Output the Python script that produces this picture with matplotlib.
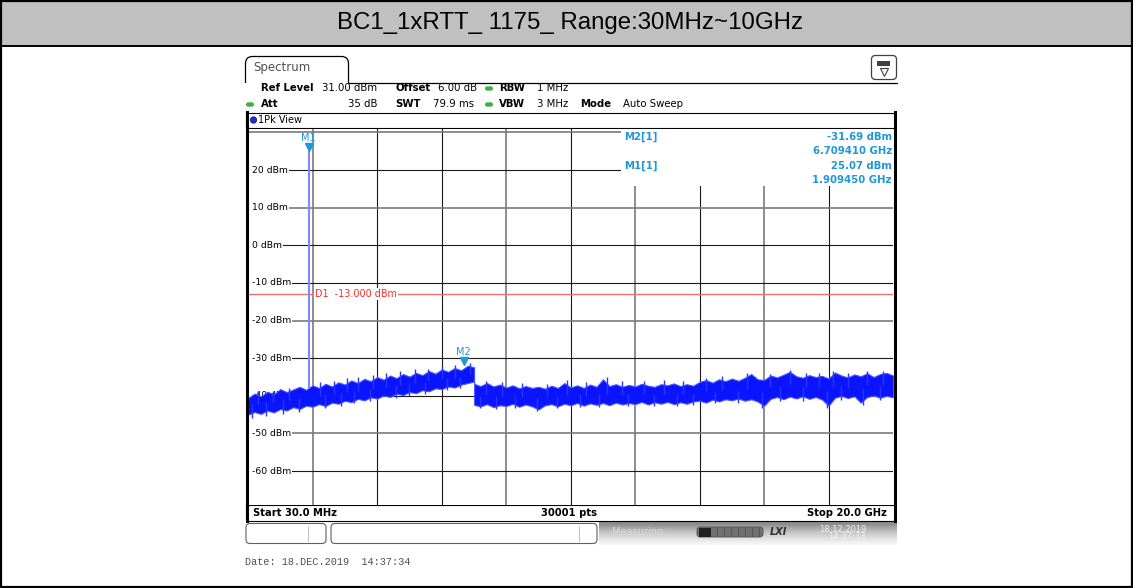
import numpy as np
import matplotlib.pyplot as plt
from matplotlib.patches import Rectangle, FancyBboxPatch, Circle
from matplotlib.transforms import offset_copy, blended_transform_factory

plt.rcParams['font.family'] = 'DejaVu Sans'

W, H = 1133, 588

title = 'BC1_1xRTT_ 1175_ Range:30MHz~10GHz'

# sweep settings
start_ghz, stop_ghz = 0.03, 20.0
ref_level, y_bottom = 31, -69
level_ticks = [30, 20, 10, 0, -10, -20, -30, -40, -50, -60]
limit_dbm = -13.0

# trace envelope (dBm), part 1: 0.03 .. 7.03 GHz
seg1_upper = [-40.6, -39.4, -40.1, -38.9, -39.6, -38.2, -39.0, -38.3, -37.6, -38.4,
              -37.2, -37.9, -36.8, -37.5, -36.4, -37.0, -35.9, -36.6, -35.5, -36.1,
              -35.0, -35.7, -34.6, -35.3, -34.2, -34.9, -33.9, -34.5, -33.4, -34.1,
              -33.0, -33.6, -32.6, -33.2, -32.0, -32.4]
seg1_lower = [-45.0, -44.3, -44.8, -43.9, -44.4, -43.5, -43.9, -43.0, -43.5, -42.6,
              -42.9, -42.2, -42.7, -41.8, -42.1, -41.3, -41.7, -40.8, -41.2, -40.4,
              -40.7, -39.9, -40.3, -39.4, -39.8, -39.0, -39.3, -38.5, -38.8, -38.0,
              -38.2, -37.5, -37.8, -37.0, -36.6, -36.2]

# part 2: 7.03 .. 20.0 GHz
seg2_upper = [-36.8, -37.4, -36.6, -37.5, -37.0, -37.8, -37.2, -38.0, -37.4, -37.9,
              -37.6, -38.1, -37.3, -37.9, -36.6, -37.8, -37.2, -37.9, -37.0, -37.6,
              -35.6, -37.4, -36.9, -37.6, -37.1, -37.5, -36.8, -37.3, -37.6, -36.9,
              -37.2, -36.7, -37.4, -36.9, -37.3, -36.3, -35.8, -36.5, -35.6, -36.1,
              -35.4, -36.0, -35.2, -34.2, -35.6, -35.8, -34.6, -35.1, -34.4, -33.6,
              -34.8, -35.2, -34.5, -35.0, -34.7, -35.4, -33.8, -34.6, -35.1, -34.3,
              -34.8, -34.0, -35.0, -34.2, -33.9, -34.6]
seg2_lower = [-42.4, -42.8, -42.2, -43.0, -42.5, -42.7, -42.1, -42.9, -42.3, -42.8,
              -43.6, -42.5, -42.2, -42.8, -42.1, -42.5, -41.9, -42.6, -42.0, -42.4,
              -41.9, -42.5, -41.8, -42.3, -41.9, -42.2, -41.6, -42.3, -41.7, -42.1,
              -41.6, -42.2, -41.7, -42.1, -41.5, -41.3, -41.8, -41.0, -41.5, -40.9,
              -41.2, -40.7, -41.3, -40.9, -41.5, -42.6, -40.8, -40.3, -40.9, -40.2,
              -40.7, -40.1, -40.8, -40.3, -41.0, -42.6, -40.5, -40.0, -40.6, -40.1,
              -41.8, -40.3, -39.9, -40.5, -40.0, -40.4]
step_ghz = 7.03

# single noise peaks sticking out of the band (GHz, dBm)
peak_up_f = [0.35, 0.8, 1.3, 2.25, 2.7, 3.1, 3.45, 3.9, 4.3, 4.75, 5.2, 5.6, 6.05, 6.45, 6.9,
             7.4, 7.9, 8.5, 9.3, 9.9, 10.5, 11.14, 11.6, 12.3, 12.9, 13.5, 14.2, 14.7, 15.47,
             16.2, 16.81, 17.3, 17.7, 18.15, 18.6, 19.2, 19.7]
peak_up_v = [-39.0, -38.6, -37.9, -36.4, -36.0, -35.3, -35.0, -34.4, -34.0, -33.5, -33.0,
             -32.8, -32.2, -31.8, -31.3,
             -36.0, -36.2, -36.6, -36.8, -35.8, -36.3, -35.0, -36.0, -36.1, -35.8, -36.0,
             -35.2, -34.6, -33.8, -34.2, -33.2, -33.9, -34.0, -33.4, -33.9, -33.5, -33.3]
peak_dn_f = [0.15, 0.6, 1.1, 1.6, 2.4, 2.9, 3.3, 3.8, 4.6, 5.0, 5.5, 6.2, 6.6,
             7.2, 7.7, 8.3, 8.97, 9.6, 10.3, 10.9, 11.8, 12.6, 13.3, 13.8, 14.5, 15.2, 15.93,
             16.5, 17.2, 17.95, 18.4, 19.08, 19.6]
peak_dn_v = [-46.0, -45.4, -44.8, -44.2, -43.3, -42.6, -42.0, -41.4, -40.5, -40.0, -39.4,
             -38.5, -38.0,
             -43.3, -43.5, -43.2, -43.9, -43.1, -42.9, -43.0, -42.7, -42.6, -42.7, -42.3,
             -42.0, -41.8, -43.3, -41.5, -41.3, -43.1, -41.2, -42.5, -41.1]

# markers
m1_freq, m1_level = 1.909450, 25.07
m2_freq, m2_level = 6.709410, -31.69

seg1_freq = np.linspace(start_ghz, step_ghz, len(seg1_upper))
seg2_freq = np.linspace(step_ghz, stop_ghz, len(seg2_upper))
freqs = np.concatenate([seg1_freq, seg2_freq])
upper = np.concatenate([seg1_upper, seg2_upper])
lower = np.concatenate([seg1_lower, seg2_lower])
mid = (upper + lower) / 2

BLUE = '#0a14ff'
MK = '#1f97d9'
GREEN = '#3cb043'

fig = plt.figure(figsize=(W / 100, H / 100), dpi=100)

# pixel-space background
bg = fig.add_axes([0, 0, 1, 1], zorder=0)
bg.set_xlim(0, W)
bg.set_ylim(H, 0)
bg.axis('off')

# title row of the table
bg.add_patch(Rectangle((0, 0), W, 45, fc='#c0c0c0', ec='none'))
bg.plot([0, W], [45.5, 45.5], color='black', lw=1.4)
bg.add_patch(Rectangle((1, 1), W - 2, H - 2, fc='none', ec='black', lw=1.6))
bg.text(570, 23, title, fontsize=17.3, family='Liberation Sans', ha='center', va='center')

# screen: tab + header
bg.add_patch(FancyBboxPatch((245.5, 56.5), 103, 40, boxstyle='round,pad=0,rounding_size=7',
                            fc='white', ec='black', lw=0.9))
bg.add_patch(Rectangle((244, 82.5), 656, 30, fc='white', ec='none', zorder=3))
bg.plot([348.5, 897], [82.5, 82.5], color='black', lw=0.9, zorder=4)
bg.text(253, 68, 'Spectrum', fontsize=8.5, color='#505050', va='center', zorder=5)
bg.add_patch(FancyBboxPatch((871.5, 55.5), 25, 24, boxstyle='round,pad=0,rounding_size=4',
                            fc='white', ec='#404040', lw=0.9))
bg.add_patch(Rectangle((877, 61), 13, 5, fc='#404040', ec='none'))
bg.plot([883.5], [72], marker='v', ms=6, mfc='white', mec='#404040', mew=0.8)

hdr = [
    (261, 88, 'Ref Level', 'bold', 'left'), (322, 88, '31.00 dBm', 'normal', 'left'),
    (395, 88, 'Offset', 'bold', 'left'), (438, 88, '6.00 dB', 'normal', 'left'),
    (499, 88, 'RBW', 'bold', 'left'), (537, 88, '1 MHz', 'normal', 'left'),
    (261, 104, 'Att', 'bold', 'left'), (378, 104, '35 dB', 'normal', 'right'),
    (395, 104, 'SWT', 'bold', 'left'), (433, 104, '79.9 ms', 'normal', 'left'),
    (499, 104, 'VBW', 'bold', 'left'), (537, 104, '3 MHz', 'normal', 'left'),
    (580, 104, 'Mode', 'bold', 'left'), (623, 104, 'Auto Sweep', 'normal', 'left'),
]
for x, y, s, w, ha in hdr:
    bg.text(x, y, s, fontsize=7.3, fontweight=w, ha=ha, va='center', zorder=5)
for x, y in [(489, 88.5), (489, 104.5), (250, 104.5)]:
    bg.add_patch(FancyBboxPatch((x - 4, y - 2.2), 8, 4.4, boxstyle='round,pad=0,rounding_size=2.2',
                                fc=GREEN, ec='none', zorder=5))

# 1Pk View bar
bg.add_patch(Rectangle((246, 112.5), 649, 15.5, fc='white', ec='black', lw=0.8, zorder=5))
bg.add_patch(Circle((253.5, 120), 3.2, fc='#1a2ee0', ec='#101050', lw=0.5, zorder=6))
bg.text(257.5, 120, '1Pk View', fontsize=7, va='center', zorder=6)

# footer bar
bg.add_patch(Rectangle((246, 505), 649, 15.5, fc='white', ec='black', lw=0.8))
bg.text(253, 512.5, 'Start 30.0 MHz', fontsize=7.2, fontweight='bold', va='center')
bg.text(569, 512.5, '30001 pts', fontsize=7.2, fontweight='bold', va='center', ha='center')
bg.text(887, 512.5, 'Stop 20.0 GHz', fontsize=7.2, fontweight='bold', va='center', ha='right')

# status bar
for x0, x1, sep in [(246, 326, 308), (331, 597, 579)]:
    bg.add_patch(FancyBboxPatch((x0, 523.5), x1 - x0, 20, boxstyle='round,pad=0,rounding_size=4',
                                fc='white', ec='#606060', lw=0.8))
    bg.plot([sep, sep], [526, 541], color='#c8c8c8', lw=0.8)
grad = np.linspace(0, 1, 24)[:, None] * np.ones((1, 10))
bg.imshow(grad, cmap='Greys_r', vmin=-0.9, vmax=1.15, extent=(599, 897, 545, 522),
          aspect='auto', zorder=1)
bg.text(612, 532, 'Measuring...', fontsize=7, color='#d8d8d8', va='center', zorder=2)
bg.add_patch(FancyBboxPatch((697, 527), 66, 10, boxstyle='round,pad=0,rounding_size=3',
                            fc='#707070', ec='#505050', lw=0.6, zorder=2))
bg.add_patch(Rectangle((699, 527.5), 12, 9, fc='#202020', ec='none', zorder=3))
for xs in range(717, 760, 7):
    bg.plot([xs, xs], [528, 536], color='#505050', lw=0.6, zorder=3)
bg.text(770, 532, 'LXI', fontsize=7, fontweight='bold', style='italic', color='#303030',
        va='center', zorder=3)
bg.text(866, 529, '18.12.2019', fontsize=6, color='#f0f0f0', ha='right', va='center', zorder=3)
bg.text(866, 536.5, '14:37:33', fontsize=6, color='#f0f0f0', ha='right', va='center', zorder=3)

bg.text(245, 562, 'Date: 18.DEC.2019  14:37:34', fontsize=7.3, family='Liberation Mono',
        color='#505050', va='center')

# spectrum grid
ax = fig.add_axes([248 / W, 1 - 505 / H, 645 / W, (505 - 128.6) / H], zorder=1)
ax.set_xlim(start_ghz, stop_ghz)
ax.set_ylim(y_bottom, ref_level)
ax.set_xticks([])
ax.set_yticks([])
for s in ax.spines.values():
    s.set_visible(False)

div = (stop_ghz - start_ghz) / 10
gray_v = [1, 4, 6, 8]
for k in range(1, 10):
    if k in gray_v:
        ax.axvline(start_ghz + k * div, color='#7a7a7a', lw=1.2, zorder=1)
    else:
        ax.axvline(start_ghz + k * div, color='#1a1a1a', lw=0.8, zorder=1)
gray_h = [30, 10, -20, -50]
for lv in level_ticks:
    if lv in gray_h:
        ax.axhline(lv, color='#7a7a7a', lw=1.2, zorder=1)
    else:
        ax.axhline(lv, color='#1a1a1a', lw=0.8, zorder=1)

# y labels
lab_tr = blended_transform_factory(ax.transAxes, ax.transData)
for lv in level_ticks[1:]:
    ax.add_patch(Rectangle((0, lv - 1.3), 0.008, 2.6, transform=lab_tr, fc='white', ec='none',
                           zorder=2))
    ax.text(0.0062, lv, f'{lv} dBm', transform=lab_tr, fontsize=6.7, va='center', ha='left',
            bbox=dict(fc='white', ec='none', pad=0.5), zorder=2)

# display line D1
ax.axhline(limit_dbm, color='#f07070', lw=1.0, zorder=2)
ax.text(2.1, limit_dbm, f'D1  {limit_dbm:.3f} dBm', fontsize=6.9, color='#ff2a2a', va='center',
        bbox=dict(fc='white', ec='none', pad=0.6), zorder=3)

# marker info box
ax.add_patch(Rectangle((11.58, 15.7), stop_ghz - 11.58, ref_level - 15.7, fc='white', ec='none',
                       zorder=3))

# trace
ax.fill_between(freqs, lower, upper, color=BLUE, ec='#4a58ff', lw=0.8, zorder=4)
ax.vlines(peak_up_f, np.interp(peak_up_f, freqs, mid), peak_up_v, color='#2a36ff', lw=1.0,
          zorder=4)
ax.vlines(peak_dn_f, np.interp(peak_dn_f, freqs, mid), peak_dn_v, color='#2a36ff', lw=1.0,
          zorder=4)
ax.vlines(m1_freq, np.interp(m1_freq, seg1_freq, seg1_upper), m1_level, color='#7f86ff',
          lw=1.5, zorder=4)

# markers
for name, f, lv in [('M1', m1_freq, m1_level), ('M2', m2_freq, m2_level)]:
    tri = offset_copy(ax.transData, fig=fig, y=3.5, units='dots')
    ax.plot([f], [lv], marker='v', ms=6, color=MK, transform=tri, zorder=6)
    txt = offset_copy(ax.transData, fig=fig, y=13, units='dots')
    ax.text(f, lv, name, fontsize=7, color=MK, ha='center', va='center', transform=txt,
            zorder=6)

# overlay for frame and marker table
fg = fig.add_axes([0, 0, 1, 1], zorder=2)
fg.set_xlim(0, W)
fg.set_ylim(H, 0)
fg.axis('off')
fg.patch.set_visible(False)
fg.plot([246.5, 246.5], [112, 521], color='black', lw=2.2)
fg.plot([894.8, 894.8], [112, 521], color='black', lw=2.2)

info = [
    (137, 'M2[1]', f'{m2_level:.2f} dBm'),
    (151, None, f'{m2_freq:.6f} GHz'),
    (166, 'M1[1]', f'{m1_level:.2f} dBm'),
    (180, None, f'{m1_freq:.6f} GHz'),
]
for y, left, right in info:
    if left:
        fg.text(624, y, left, fontsize=7.3, fontweight='bold', color=MK, va='center')
    fg.text(892, y, right, fontsize=7.3, fontweight='bold', color=MK, va='center', ha='right')

fig.savefig('out.png', dpi=100)
